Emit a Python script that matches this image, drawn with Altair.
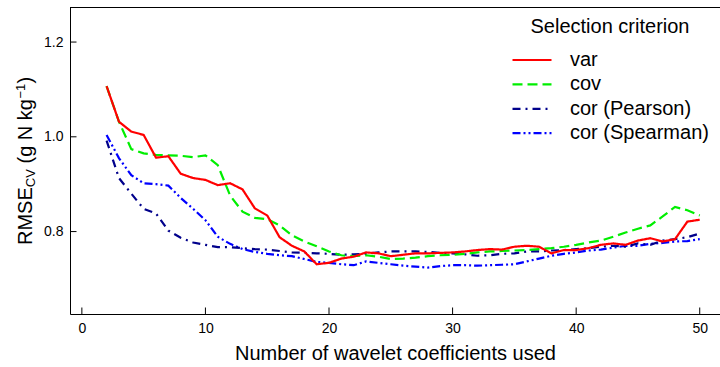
import altair as alt
import pandas as pd

FONT = "Liberation Sans"

n_coef = list(range(2, 51))

rmse_var = [1.107, 1.032, 1.011, 1.004, 0.956, 0.959, 0.922, 0.913, 0.909, 0.898,
            0.902, 0.889, 0.849, 0.834, 0.788, 0.770, 0.758, 0.731, 0.734, 0.743,
            0.747, 0.756, 0.754, 0.748, 0.751, 0.754, 0.754, 0.755, 0.756, 0.758,
            0.761, 0.763, 0.762, 0.768, 0.770, 0.768, 0.754, 0.761, 0.761, 0.765,
            0.772, 0.775, 0.772, 0.781, 0.786, 0.779, 0.784, 0.821, 0.825]

rmse_cov = [1.107, 1.032, 0.974, 0.965, 0.962, 0.961, 0.960, 0.957, 0.961, 0.940,
            0.876, 0.842, 0.829, 0.826, 0.813, 0.792, 0.779, 0.769, 0.758, 0.750,
            0.748, 0.750, 0.747, 0.742, 0.743, 0.745, 0.748, 0.750, 0.751, 0.753,
            0.756, 0.758, 0.759, 0.760, 0.761, 0.763, 0.765, 0.768, 0.772, 0.777,
            0.781, 0.789, 0.798, 0.806, 0.813, 0.832, 0.852, 0.845, 0.834]

rmse_pearson = [0.992, 0.913, 0.880, 0.848, 0.838, 0.802, 0.787, 0.777, 0.772, 0.767,
                0.767, 0.765, 0.763, 0.762, 0.759, 0.756, 0.755, 0.754, 0.753, 0.751,
                0.752, 0.753, 0.756, 0.758, 0.758, 0.758, 0.757, 0.755, 0.754, 0.752,
                0.749, 0.750, 0.753, 0.754, 0.758, 0.758, 0.760, 0.761, 0.763, 0.765,
                0.768, 0.770, 0.768, 0.775, 0.772, 0.781, 0.784, 0.788, 0.796]

rmse_spearman = [1.004, 0.955, 0.919, 0.902, 0.900, 0.897, 0.871, 0.848, 0.824, 0.789,
                 0.774, 0.763, 0.757, 0.753, 0.750, 0.748, 0.742, 0.736, 0.734, 0.731,
                 0.729, 0.737, 0.734, 0.731, 0.728, 0.726, 0.724, 0.727, 0.729, 0.729,
                 0.728, 0.729, 0.730, 0.731, 0.737, 0.743, 0.749, 0.753, 0.756, 0.760,
                 0.762, 0.766, 0.770, 0.770, 0.774, 0.776, 0.779, 0.780, 0.784]

series_names = ["var", "cov", "cor (Pearson)", "cor (Spearman)"]
series_colors = ["#FF0000", "#00EE00", "#00008B", "#0000FF"]
series_dashes = [[1, 0], [10, 5], [8, 5, 2, 5], [8, 3, 2, 3, 2, 3]]

x_ticks = [0, 10, 20, 30, 40, 50]
y_ticks = [0.8, 1.0, 1.2]

x_title = "Number of wavelet coefficients used"
legend_title = "Selection criterion"

rows = []
for name, vals in [("cor (Spearman)", rmse_spearman), ("cor (Pearson)", rmse_pearson),
                   ("cov", rmse_cov), ("var", rmse_var)]:
    for k, v in zip(n_coef, vals):
        rows.append({"n": k, "rmse": v, "criterion": name})
df = pd.DataFrame(rows)

W, H = 650, 307
xs = alt.Scale(domain=[-0.96, 51.64], nice=False, zero=False)
ys = alt.Scale(domain=[0.626, 1.274], nice=False, zero=False)

x_axis = alt.Axis(
    values=x_ticks, ticks=False, labelFontSize=14, labelPadding=7,
    title=x_title, titleFontSize=20, titlePadding=8, titleFontWeight="normal",
    domainColor="black", domainWidth=1, labelColor="black", titleColor="black", grid=False,
    labelFlush=False, labelFont=FONT, titleFont=FONT)
y_axis = alt.Axis(
    values=y_ticks, format=".1f", ticks=False, labelFontSize=14, labelPadding=7,
    title="", grid=False, domainColor="black", domainWidth=1, labelColor="black", labelFont=FONT)

leg = alt.Legend(
    title=legend_title, orient="none", legendX=441, legendY=10,
    symbolType="stroke", symbolSize=1521, symbolStrokeWidth=2.2,
    clipHeight=20, rowPadding=4.4, labelOffset=17, symbolOffset=0,
    labelFontSize=20, titleFontSize=20, titleFontWeight="normal",
    titleAnchor="middle", titleAlign="center", titlePadding=13, padding=0,
    labelFont=FONT, titleFont=FONT, labelColor="black", titleColor="black",
)

lines = alt.Chart(df).mark_line(strokeWidth=2.2, clip=True).encode(
    x=alt.X("n:Q", scale=xs, axis=x_axis),
    y=alt.Y("rmse:Q", scale=ys, axis=y_axis),
    color=alt.Color("criterion:N", scale=alt.Scale(domain=series_names, range=series_colors), legend=leg),
    strokeDash=alt.StrokeDash("criterion:N", scale=alt.Scale(domain=series_names, range=series_dashes), legend=leg),
)

xt = alt.Chart(pd.DataFrame({"t": x_ticks})).mark_rule(color="black", strokeWidth=1).encode(
    x=alt.X("t:Q", scale=xs, axis=x_axis), y=alt.value(H), y2=alt.value(H - 6.5))
yt = alt.Chart(pd.DataFrame({"t": y_ticks})).mark_rule(color="black", strokeWidth=1).encode(
    y=alt.Y("t:Q", scale=ys, axis=y_axis), x=alt.value(0), x2=alt.value(6.5))
top = alt.Chart(pd.DataFrame({"a": [0]})).mark_rule(color="black", strokeWidth=1).encode(
    x=alt.value(0), x2=alt.value(W), y=alt.value(0.5))

one = pd.DataFrame({"a": [0]})
def piece(txt, size, dx, dy):
    return alt.Chart(one).mark_text(
        text=txt, angle=270, align="left", baseline="alphabetic", fontSize=size,
        dx=dx, dy=dy, font=FONT, color="black").encode(x=alt.value(-38.5), y=alt.value(238))

title_parts = [
    piece("RMSE", 20, 0, 0),
    piece("CV", 13, 57.8, 3.5),
    piece("(g N kg", 20, 81.5, 0),
    piece("\u22121", 13, 146.5, -7),
    piece(")", 20, 161.5, 0),
]

chart = alt.layer(lines, xt, yt, top, *title_parts).properties(
    width=W, height=H,
    autosize=alt.AutoSizeParams(type="none"),
    padding={"left": 70, "top": 7, "right": 0, "bottom": 53},
).configure_view(stroke=None)

chart.save("out.html", embed_options={"renderer": "svg", "actions": False})
